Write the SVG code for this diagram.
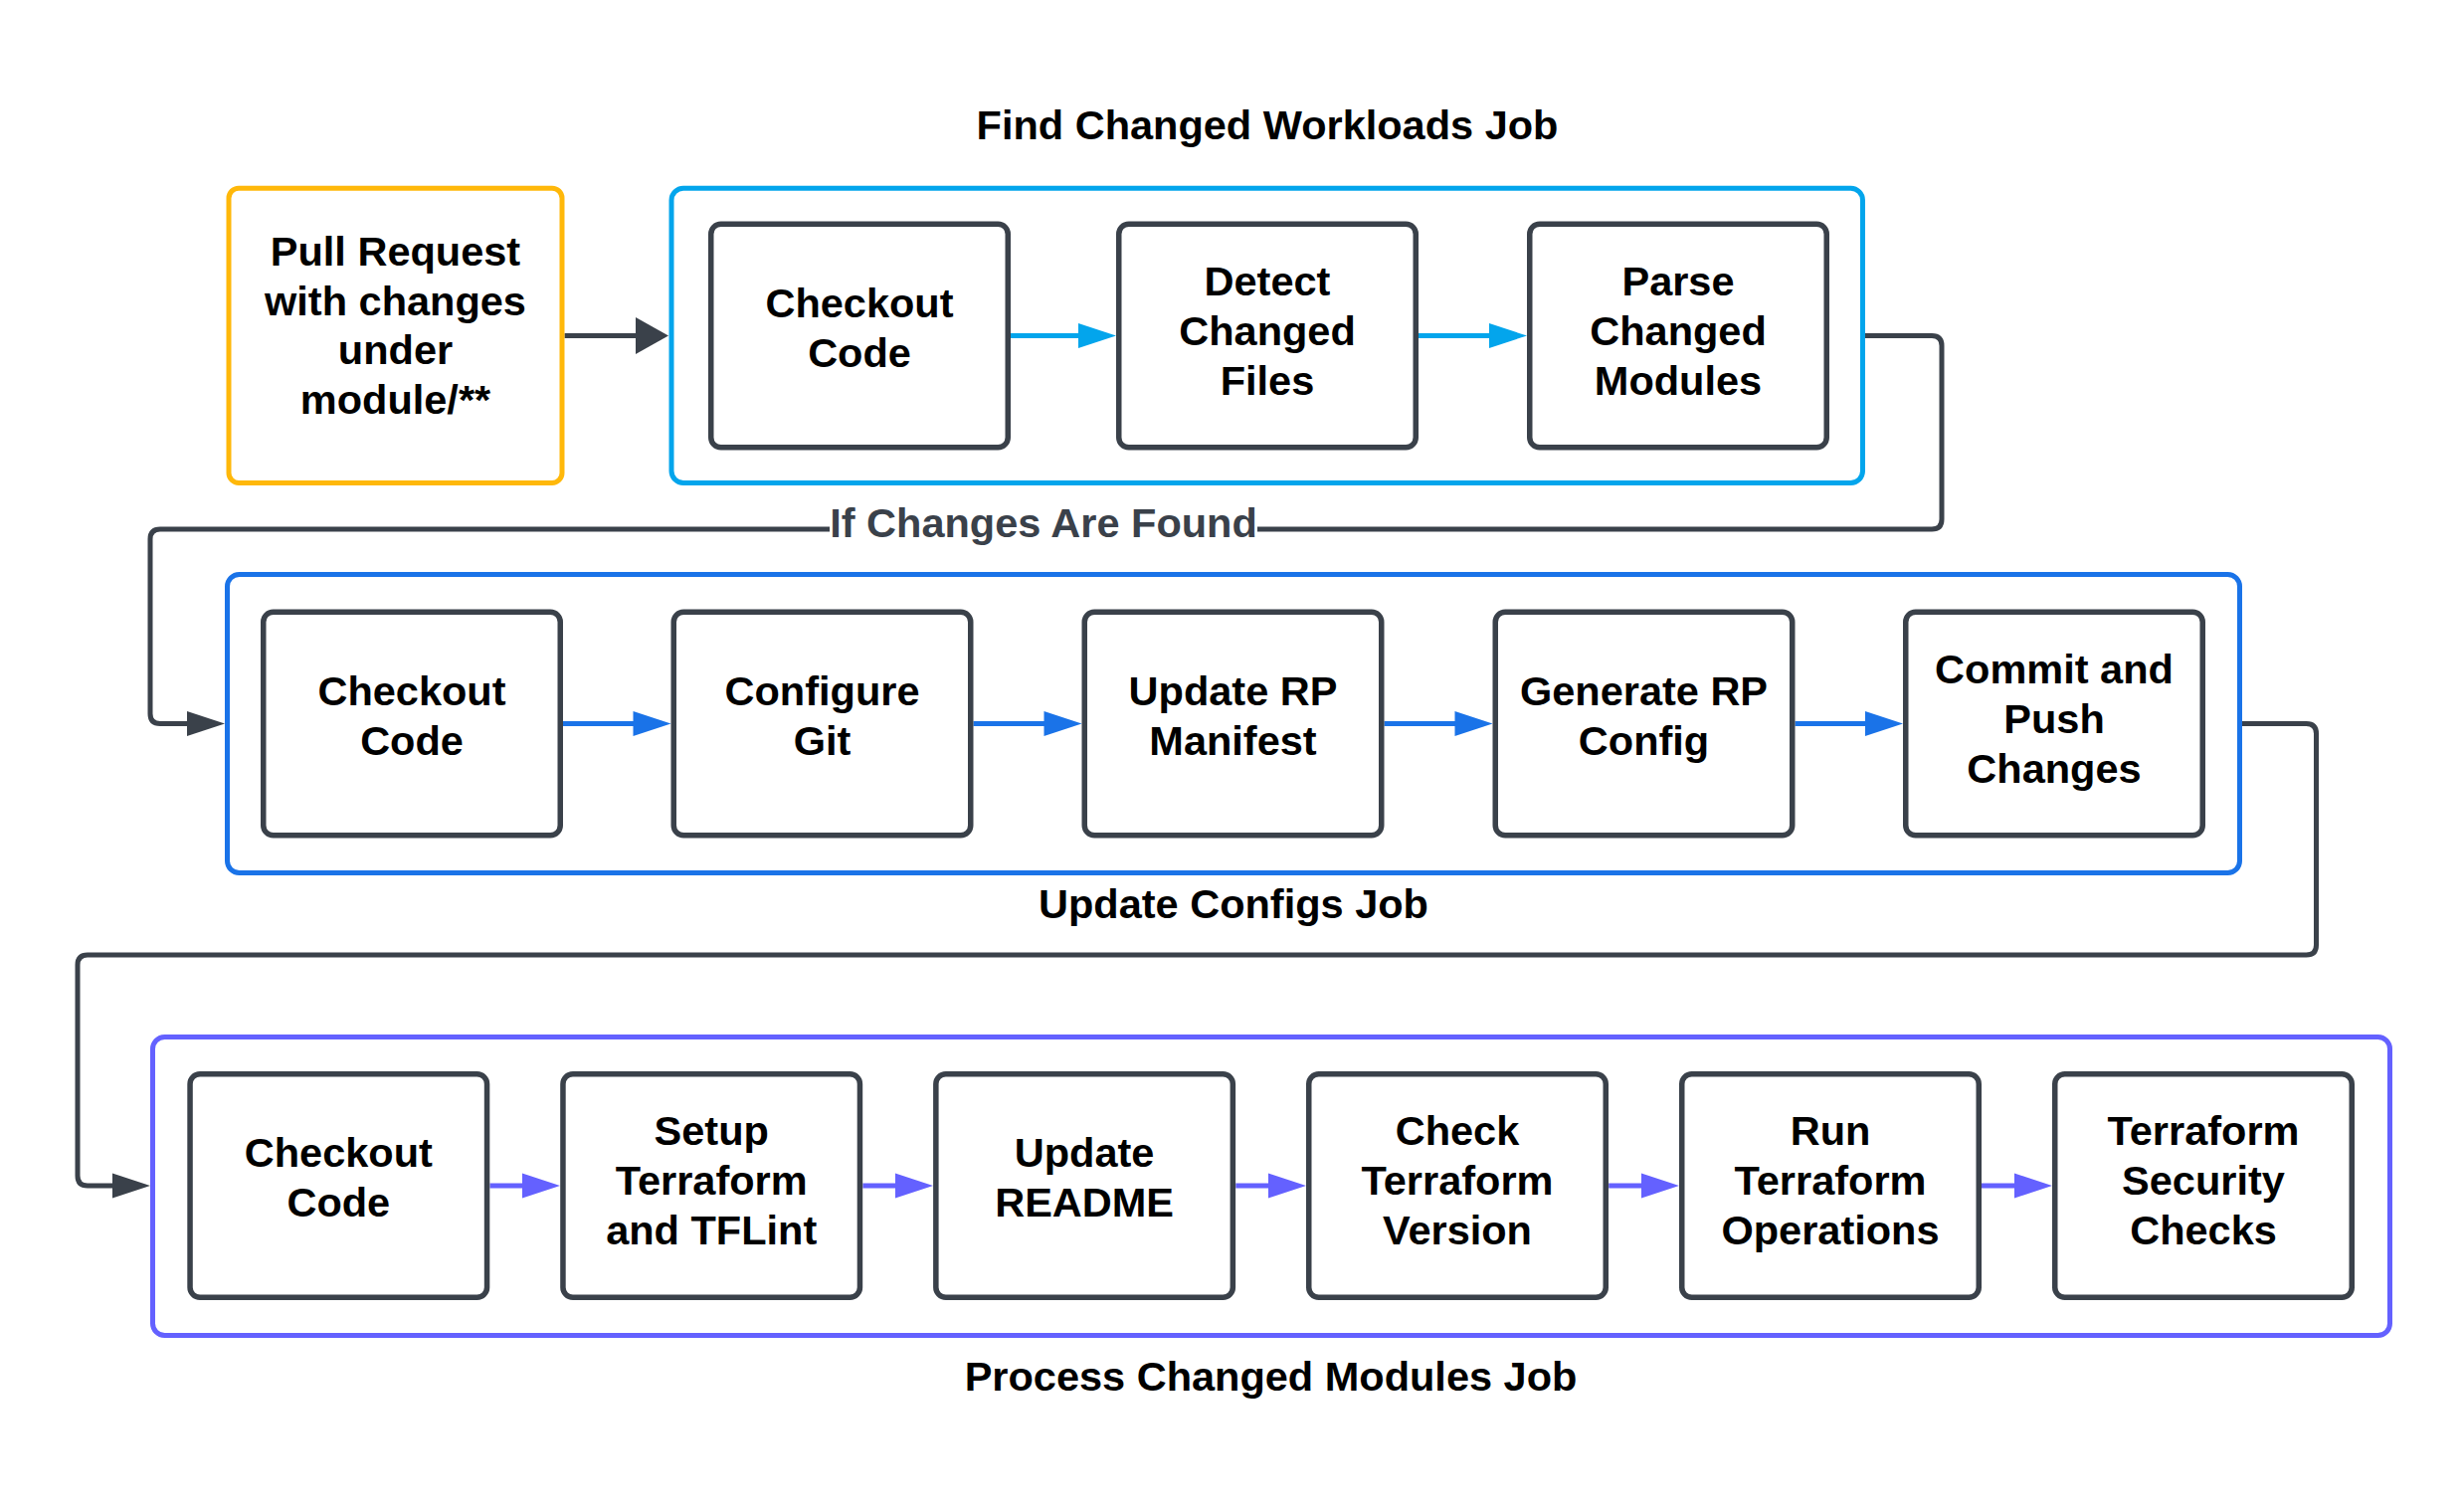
<svg xmlns="http://www.w3.org/2000/svg" width="2477" height="1515" viewBox="0 0 2477 1515">
<style>
text{font-family:"Liberation Sans",Arial,Helvetica,sans-serif;font-weight:bold;font-size:41.5px;fill:#000;text-anchor:middle}
.lbl{fill:#3a414a}
.step{fill:#fff;stroke:#3a414a;stroke-width:5.5}
.cont{fill:none;stroke-width:5}
.c1{stroke:#03a5ec}.c2{stroke:#1a73e8}.c3{stroke:#6461ff}
.pr{fill:#fff;stroke:#ffb80a;stroke-width:5}
.ln{fill:none;stroke-width:5}
.dk{stroke:#3a414a}
</style>
<defs>
<marker id="aDkBig" markerUnits="userSpaceOnUse" markerWidth="34" markerHeight="38" refX="1" refY="18.5" orient="auto" overflow="visible"><path d="M0,0 L33,18.5 L0,37 Z" fill="#3a414a"/></marker>
<marker id="aDk" markerUnits="userSpaceOnUse" markerWidth="39" markerHeight="26" refX="1" refY="12.5" orient="auto" overflow="visible"><path d="M0,0 L38,12.5 L0,25 Z" fill="#3a414a"/></marker>
<marker id="aC1" markerUnits="userSpaceOnUse" markerWidth="39" markerHeight="26" refX="1" refY="12.5" orient="auto" overflow="visible"><path d="M0,0 L38,12.5 L0,25 Z" fill="#03a5ec"/></marker>
<marker id="aC2" markerUnits="userSpaceOnUse" markerWidth="39" markerHeight="26" refX="1" refY="12.5" orient="auto" overflow="visible"><path d="M0,0 L38,12.5 L0,25 Z" fill="#1a73e8"/></marker>
<marker id="aC3" markerUnits="userSpaceOnUse" markerWidth="39" markerHeight="26" refX="1" refY="12.5" orient="auto" overflow="visible"><path d="M0,0 L38,12.5 L0,25 Z" fill="#6461ff"/></marker>
</defs>
<rect width="2477" height="1515" fill="#fff"/>

<g id="job-find">
<rect class="cont c1" x="675" y="189.2" width="1197.5" height="296.3" rx="12"/>
<text x="1274" y="140">Find Changed Workloads Job</text>
</g>
<g id="job-update">
<rect class="cont c2" x="228.5" y="577.5" width="2023" height="300" rx="12"/>
<text x="1240" y="923">Update Configs Job</text>
</g>
<g id="job-process">
<rect class="cont c3" x="153.5" y="1042.5" width="2249" height="300" rx="12"/>
<text x="1277.5" y="1398">Process Changed Modules Job</text>
</g>

<g id="connectors">
<path class="ln dk" d="M567.5,337.5 H640" marker-end="url(#aDkBig)"/>
<path class="ln c1" d="M1016,337.5 H1085" marker-end="url(#aC1)"/>
<path class="ln c1" d="M1426,337.5 H1498" marker-end="url(#aC1)"/>
<path class="ln dk" d="M1875,337.5 H1942 Q1952,337.5 1952,347.5 V522 Q1952,532 1942,532 H1264"/>
<path class="ln dk" d="M834,532 H161 Q151,532 151,542 V717.5 Q151,727.5 161,727.5 H189" marker-end="url(#aDk)"/>
<text class="lbl" x="1049" y="540">If Changes Are Found</text>
<path class="ln c2" d="M566,727.5 H637.5" marker-end="url(#aC2)"/>
<path class="ln c2" d="M978.5,727.5 H1050.5" marker-end="url(#aC2)"/>
<path class="ln c2" d="M1391.5,727.5 H1463.5" marker-end="url(#aC2)"/>
<path class="ln c2" d="M1804.5,727.5 H1876" marker-end="url(#aC2)"/>
<path class="ln dk" d="M2254,727.5 H2318.5 Q2328.5,727.5 2328.5,737.5 V950 Q2328.5,960 2318.5,960 H88 Q78,960 78,970 V1182 Q78,1192 88,1192 H114" marker-end="url(#aDk)"/>
<path class="ln c3" d="M492.5,1192 H526" marker-end="url(#aC3)"/>
<path class="ln c3" d="M867.4,1192 H901" marker-end="url(#aC3)"/>
<path class="ln c3" d="M1242.3,1192 H1276" marker-end="url(#aC3)"/>
<path class="ln c3" d="M1617.2,1192 H1651" marker-end="url(#aC3)"/>
<path class="ln c3" d="M1992,1192 H2026" marker-end="url(#aC3)"/>
</g>

<g id="pull-request">
<rect class="pr" x="230" y="189.2" width="335" height="296.3" rx="10"/>
<text><tspan x="397.5" y="267">Pull Request</tspan><tspan x="397.5" y="316.5">with changes</tspan><tspan x="397.5" y="366">under</tspan><tspan x="397.5" y="415.5">module/**</tspan></text>
</g>

<g id="find-checkout">
<rect class="step" x="714.75" y="225.25" width="298.5" height="224.5" rx="10"/>
<text><tspan x="864" y="318.5">Checkout</tspan><tspan x="864" y="368.5">Code</tspan></text>
</g>
<g id="find-detect">
<rect class="step" x="1124.75" y="225.25" width="298.5" height="224.5" rx="10"/>
<text><tspan x="1274" y="296.5">Detect</tspan><tspan x="1274" y="346.5">Changed</tspan><tspan x="1274" y="396.5">Files</tspan></text>
</g>
<g id="find-parse">
<rect class="step" x="1537.75" y="225.25" width="298.5" height="224.5" rx="10"/>
<text><tspan x="1687" y="296.5">Parse</tspan><tspan x="1687" y="346.5">Changed</tspan><tspan x="1687" y="396.5">Modules</tspan></text>
</g>

<g id="upd-checkout">
<rect class="step" x="264.75" y="615.25" width="298.5" height="224.5" rx="10"/>
<text><tspan x="414" y="708.5">Checkout</tspan><tspan x="414" y="758.5">Code</tspan></text>
</g>
<g id="upd-git">
<rect class="step" x="677.25" y="615.25" width="298.5" height="224.5" rx="10"/>
<text><tspan x="826.5" y="708.5">Configure</tspan><tspan x="826.5" y="758.5">Git</tspan></text>
</g>
<g id="upd-manifest">
<rect class="step" x="1090.25" y="615.25" width="298.5" height="224.5" rx="10"/>
<text><tspan x="1239.5" y="708.5">Update RP</tspan><tspan x="1239.5" y="758.5">Manifest</tspan></text>
</g>
<g id="upd-config">
<rect class="step" x="1503.25" y="615.25" width="298.5" height="224.5" rx="10"/>
<text><tspan x="1652.5" y="708.5">Generate RP</tspan><tspan x="1652.5" y="758.5">Config</tspan></text>
</g>
<g id="upd-commit">
<rect class="step" x="1915.75" y="615.25" width="298.5" height="224.5" rx="10"/>
<text><tspan x="2065" y="686.5">Commit and</tspan><tspan x="2065" y="736.5">Push</tspan><tspan x="2065" y="786.5">Changes</tspan></text>
</g>

<g id="proc-checkout">
<rect class="step" x="191.05" y="1079.75" width="298.5" height="224.5" rx="10"/>
<text><tspan x="340.3" y="1173">Checkout</tspan><tspan x="340.3" y="1223">Code</tspan></text>
</g>
<g id="proc-setup">
<rect class="step" x="565.95" y="1079.75" width="298.5" height="224.5" rx="10"/>
<text><tspan x="715.2" y="1151">Setup</tspan><tspan x="715.2" y="1201">Terraform</tspan><tspan x="715.2" y="1251">and TFLint</tspan></text>
</g>
<g id="proc-readme">
<rect class="step" x="940.85" y="1079.75" width="298.5" height="224.5" rx="10"/>
<text><tspan x="1090.1" y="1173">Update</tspan><tspan x="1090.1" y="1223">README</tspan></text>
</g>
<g id="proc-version">
<rect class="step" x="1315.75" y="1079.75" width="298.5" height="224.5" rx="10"/>
<text><tspan x="1465" y="1151">Check</tspan><tspan x="1465" y="1201">Terraform</tspan><tspan x="1465" y="1251">Version</tspan></text>
</g>
<g id="proc-ops">
<rect class="step" x="1690.75" y="1079.75" width="298.5" height="224.5" rx="10"/>
<text><tspan x="1840" y="1151">Run</tspan><tspan x="1840" y="1201">Terraform</tspan><tspan x="1840" y="1251">Operations</tspan></text>
</g>
<g id="proc-security">
<rect class="step" x="2065.75" y="1079.75" width="298.5" height="224.5" rx="10"/>
<text><tspan x="2215" y="1151">Terraform</tspan><tspan x="2215" y="1201">Security</tspan><tspan x="2215" y="1251">Checks</tspan></text>
</g>
</svg>
